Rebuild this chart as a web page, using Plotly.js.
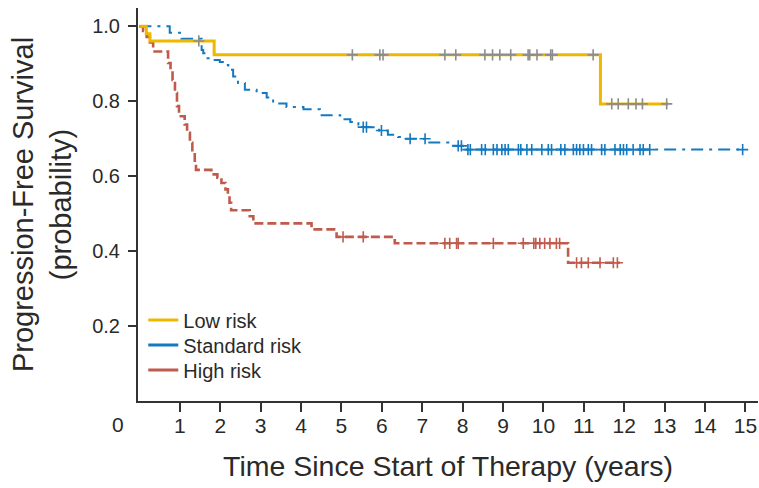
<!DOCTYPE html>
<html>
<head>
<meta charset="utf-8">
<script src="https://cdn.plot.ly/plotly-3.0.1.min.js"></script>
<style>html,body{margin:0;padding:0;background:#fff;}#chart{width:759px;height:488px;}</style>
</head>
<body>
<div id="chart"></div>
<script>
// Kaplan-Meier step data (time in years, survival probability)
var lowT  = [0, 0.17, 0.26, 1.85, 11.41, 13.09];
var lowS  = [1.0, 0.980, 0.961, 0.924, 0.793, 0.793];
var lowCensor = [1.47, 5.27, 5.95, 6.03, 7.56, 7.83, 8.55, 8.74, 8.92, 9.19, 9.62, 9.66, 9.84, 10.18, 10.22, 11.23, 11.69, 11.85, 12.10, 12.29, 12.45, 13.05];

var stdT  = [0, 0.75, 1.04, 1.54, 1.58, 1.66, 1.82, 1.99, 2.11, 2.20, 2.32, 2.44, 2.61, 2.90, 3.15, 3.31, 3.64, 4.06, 4.47, 4.97, 5.22, 5.42, 5.52, 5.93, 6.15, 6.40, 6.60, 7.12, 7.70, 8.05, 14.97];
var stdS  = [1.0, 0.983, 0.967, 0.937, 0.928, 0.915, 0.910, 0.905, 0.897, 0.884, 0.866, 0.849, 0.831, 0.822, 0.810, 0.794, 0.785, 0.779, 0.763, 0.752, 0.745, 0.738, 0.731, 0.722, 0.711, 0.705, 0.700, 0.690, 0.681, 0.671, 0.671];
var stdCensor = [5.54, 5.62, 5.99, 6.70, 7.07, 7.89, 7.97, 8.13, 8.19, 8.47, 8.56, 8.76, 8.85, 8.97, 9.05, 9.13, 9.38, 9.44, 9.59, 9.71, 9.96, 10.12, 10.20, 10.43, 10.53, 10.74, 10.82, 10.90, 10.99, 11.11, 11.19, 11.44, 11.52, 11.77, 11.90, 11.98, 12.06, 12.22, 12.39, 12.47, 12.63, 14.93];

var highT = [0, 0.09, 0.18, 0.26, 0.34, 0.71, 0.77, 0.82, 0.88, 0.93, 0.98, 1.12, 1.18, 1.25, 1.31, 1.37, 1.40, 1.78, 1.93, 2.03, 2.13, 2.19, 2.23, 2.27, 2.73, 2.82, 4.26, 4.88, 6.32, 10.61, 11.89];
var highS = [1.0, 0.988, 0.972, 0.957, 0.933, 0.902, 0.885, 0.857, 0.822, 0.787, 0.760, 0.738, 0.716, 0.689, 0.662, 0.636, 0.617, 0.605, 0.596, 0.582, 0.565, 0.551, 0.529, 0.509, 0.493, 0.474, 0.458, 0.438, 0.421, 0.369, 0.369];
var highCensor = [5.04, 5.54, 7.56, 7.68, 7.85, 7.89, 8.76, 9.50, 9.76, 9.81, 9.91, 10.03, 10.16, 10.32, 10.40, 10.82, 10.94, 11.11, 11.40, 11.73, 11.83];

var groupNames = ['Low risk', 'Standard risk', 'High risk'];
var xTickVals = [1,2,3,4,5,6,7,8,9,10,11,12,13,14,15];
var yTickVals = [0.2, 0.4, 0.6, 0.8, 1.0];
var yTickText = ['0.2', '0.4', '0.6', '0.8', '1.0'];

var GOLD = '#EDB800', BLUE = '#1479BF', RED = '#C05A4C', GRAY = '#8C8C8C', INK = '#2a2a2a';
var FONT = 'Liberation Sans, Arial, Helvetica, sans-serif';

// survival at time t from a KM step function
function kmAt(T, S, t) {
  var v = S[0];
  for (var i = 0; i < T.length; i++) { if (T[i] <= t) v = S[i]; }
  return v;
}

function curve(T, S, color, width, dash) {
  return {x: T, y: S, type: 'scatter', mode: 'lines', line: {shape: 'hv', color: color, width: width, dash: dash},
          showlegend: false, hoverinfo: 'skip'};
}
function censors(C, T, S, color) {
  return {x: C, y: C.map(function (t) { return kmAt(T, S, t); }), type: 'scatter', mode: 'markers',
          marker: {symbol: 'cross-thin', size: 8, color: color, line: {color: color, width: 1.6}},
          showlegend: false, hoverinfo: 'skip'};
}
function legendItem(name, color, legendId) {
  return {x: [null], y: [null], type: 'scatter', mode: 'lines', name: name, legend: legendId,
          line: {color: color, width: 3}, showlegend: true};
}

var data = [
  curve(highT, highS, RED, 2.6, '9px,4px'),
  censors(highCensor, highT, highS, RED),
  curve(stdT, stdS, BLUE, 2, '12px,6px,3px,6px'),
  censors(stdCensor, stdT, stdS, BLUE),
  curve(lowT, lowS, GOLD, 3, 'solid'),
  censors(lowCensor, lowT, lowS, GRAY),
  legendItem(groupNames[0], GOLD, 'legend'),
  legendItem(groupNames[1], BLUE, 'legend2'),
  legendItem(groupNames[2], RED, 'legend3')
];

function legendBox(y) {
  return {x: 0.0085, y: y, xanchor: 'left', yanchor: 'middle', bgcolor: 'rgba(0,0,0,0)',
          font: {size: 20, family: FONT, color: INK}, itemwidth: 30};
}

var layout = {
  width: 759, height: 488,
  margin: {l: 138, r: 1, t: 8, b: 87},
  paper_bgcolor: '#fff', plot_bgcolor: '#fff',
  font: {family: FONT, color: INK},
  showlegend: true,
  legend: legendBox(0.2060),
  legend2: legendBox(0.1425),
  legend3: legendBox(0.0790),
  xaxis: {
    range: [-0.035, 15.31], showgrid: false, zeroline: false,
    showline: true, linecolor: '#333', linewidth: 2,
    ticks: 'outside', ticklen: 9, tickwidth: 2, tickcolor: '#333',
    tickvals: xTickVals, tickfont: {size: 21, family: FONT, color: INK},
    ticklabelstandoff: -4,
    title: {text: 'Time Since Start of Therapy (years)', font: {size: 28.5, family: FONT, color: INK}, standoff: 20},
    fixedrange: true
  },
  yaxis: {
    range: [0, 1.049], showgrid: false, zeroline: false,
    showline: true, linecolor: '#333', linewidth: 2,
    ticks: 'outside', ticklen: 8, tickwidth: 2, tickcolor: '#333',
    tickvals: yTickVals, ticktext: yTickText, tickfont: {size: 20, family: FONT, color: INK},
    ticklabelstandoff: 4,
    title: {text: 'Progression-Free Survival<br>(probability)', font: {size: 29, family: FONT, color: INK}, standoff: 12},
    fixedrange: true
  },
  annotations: [
    {text: '0', xref: 'paper', yref: 'paper', x: -0.033, y: -0.061, xanchor: 'center', yanchor: 'middle',
     showarrow: false, font: {size: 21, family: FONT, color: INK}}
  ]
};

Plotly.newPlot('chart', data, layout, {displayModeBar: false, staticPlot: true});
</script>
</body>
</html>
